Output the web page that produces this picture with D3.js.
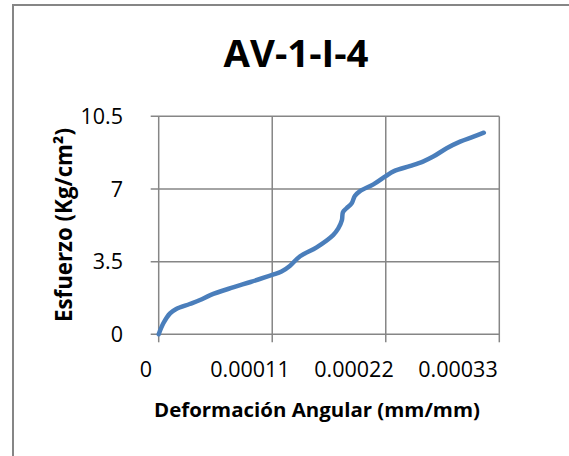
<!DOCTYPE html>
<html>
<head>
<meta charset="utf-8">
<script src="https://cdn.jsdelivr.net/npm/d3@7"></script>
<style>
  body { margin: 0; background: #fff; }
  svg { display: block; font-family: "Open Sans", sans-serif; }
</style>
</head>
<body>
<div id="chart"></div>
<script>
// data
const strain = [0, 0.045e-4, 0.11e-4, 0.17e-4, 0.30e-4, 0.40e-4, 0.50e-4, 0.72e-4, 0.89e-4, 1.10e-4,
  1.19e-4, 1.27e-4, 1.37e-4, 1.53e-4, 1.69e-4, 1.74e-4, 1.775e-4, 1.785e-4, 1.82e-4, 1.87e-4,
  1.90e-4, 1.95e-4, 2.08e-4, 2.20e-4, 2.28e-4, 2.44e-4, 2.56e-4, 2.66e-4, 2.79e-4, 2.92e-4,
  3.05e-4, 3.15e-4];
const stress = [0, 0.53, 1.01, 1.22, 1.46, 1.65, 1.89, 2.26, 2.52, 2.86,
  3.02, 3.29, 3.76, 4.19, 4.78, 5.10, 5.50, 5.88, 6.07, 6.31,
  6.66, 6.90, 7.22, 7.62, 7.86, 8.11, 8.32, 8.56, 8.96, 9.28,
  9.52, 9.71];
const xTicks = [0, 0.00011, 0.00022, 0.00033];
const xTickLabels = ["0", "0.00011", "0.00022", "0.00033"];
const yTicks = [0, 3.5, 7, 10.5];
const yTickLabels = ["0", "3.5", "7", "10.5"];
const title = "AV-1-I-4";
const xTitle = "Deformación Angular (mm/mm)";
const yTitle = "Esfuerzo (Kg/cm²)";

const W = 569, H = 456;
const plot = {left: 158.7, right: 499.3, top: 116.3, bottom: 334.3};
const gridColor = "#868686";
const lineColor = "#4a7ebb";

const svg = d3.select("#chart").append("svg")
  .attr("width", W).attr("height", H);

// chart area border
svg.append("rect")
  .attr("x", 13).attr("y", 5)
  .attr("width", 700).attr("height", 600)
  .attr("fill", "#fff")
  .attr("stroke", gridColor)
  .attr("stroke-width", 2);

const x = d3.scaleLinear().domain([0, 0.00033]).range([plot.left, plot.right]);
const y = d3.scaleLinear().domain([0, 10.5]).range([plot.bottom, plot.top]);
// tick labels in the original sit a bit left of their gridlines
const xLab = d3.scaleLinear().domain([0, 0.00033]).range([146, 458]);

// gridlines (with outward tick marks)
svg.selectAll(".hgrid")
  .data(yTicks)
  .enter()
  .append("line")
  .attr("class", "hgrid")
  .attr("x1", plot.left - 8)
  .attr("x2", plot.right)
  .attr("y1", d => y(d))
  .attr("y2", d => y(d))
  .attr("stroke", gridColor)
  .attr("stroke-width", 1.5);

svg.selectAll(".vgrid")
  .data(xTicks)
  .enter()
  .append("line")
  .attr("class", "vgrid")
  .attr("x1", d => x(d))
  .attr("x2", d => x(d))
  .attr("y1", plot.top)
  .attr("y2", plot.bottom + 8)
  .attr("stroke", gridColor)
  .attr("stroke-width", 1.5);

// tick labels
svg.selectAll(".ylab")
  .data(yTicks)
  .enter()
  .append("text")
  .attr("class", "ylab")
  .attr("x", 123)
  .attr("y", d => y(d))
  .attr("dy", "0.36em")
  .attr("text-anchor", "end")
  .attr("font-size", 21.5)
  .attr("fill", "#000")
  .text((d, i) => yTickLabels[i]);

svg.selectAll(".xlab")
  .data(xTicks)
  .enter()
  .append("text")
  .attr("class", "xlab")
  .attr("x", d => xLab(d))
  .attr("y", 376.7)
  .attr("text-anchor", "middle")
  .attr("font-size", 21.5)
  .attr("fill", "#000")
  .text((d, i) => xTickLabels[i]);

// series
const pts = strain.map((s, i) => [s, stress[i]]);
const line = d3.line()
  .x(d => x(d[0]))
  .y(d => y(d[1]))
  .curve(d3.curveCatmullRom.alpha(0.5));

svg.append("path")
  .datum(pts)
  .attr("d", line)
  .attr("fill", "none")
  .attr("stroke", lineColor)
  .attr("stroke-width", 4.5)
  .attr("stroke-linecap", "round")
  .attr("stroke-linejoin", "round");

// titles
function fit(sel, target) {
  const len = sel.node().getComputedTextLength();
  const fs = parseFloat(sel.attr("font-size"));
  sel.attr("font-size", fs * target / len);
}

const t = svg.append("text")
  .attr("x", 296).attr("y", 66.7)
  .attr("text-anchor", "middle")
  .attr("font-weight", "bold")
  .attr("font-size", 38)
  .text(title);
fit(t, 145);

const xt = svg.append("text")
  .attr("x", 317).attr("y", 416.7)
  .attr("text-anchor", "middle")
  .attr("font-weight", "bold")
  .attr("font-size", 21)
  .text(xTitle);
fit(xt, 326);

const yt = svg.append("text")
  .attr("transform", "translate(72,225) rotate(-90)")
  .attr("text-anchor", "middle")
  .attr("font-weight", "bold")
  .attr("font-size", 21)
  .text(yTitle);
fit(yt, 194);
</script>
</body>
</html>
